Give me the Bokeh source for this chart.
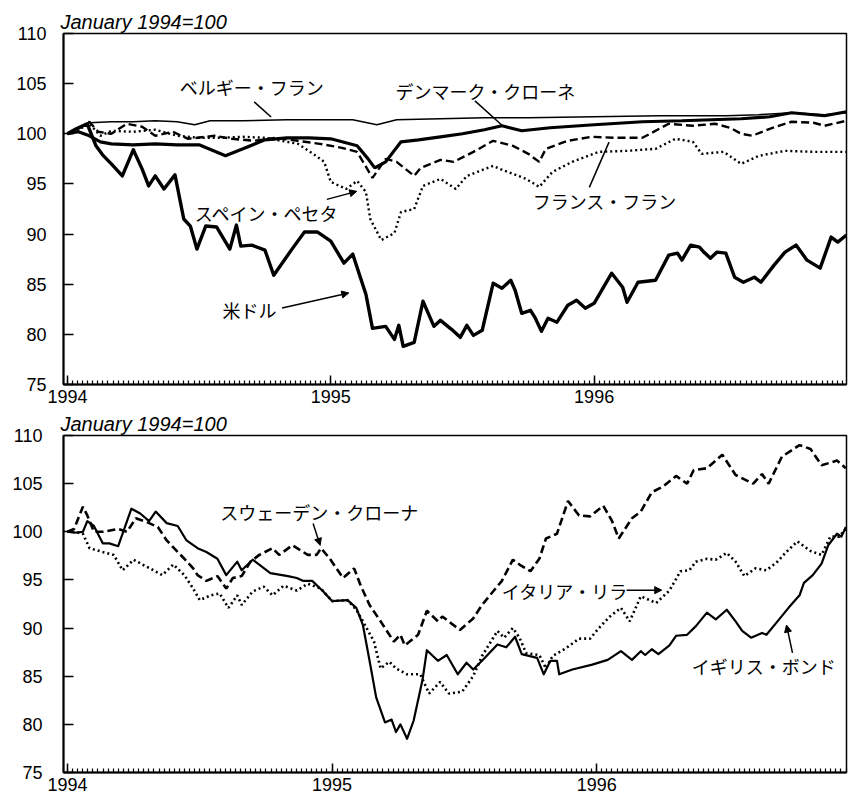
from bokeh.plotting import figure
from bokeh.layouts import column
from bokeh.models import Range1d, FixedTicker, Arrow, NormalHead, ColumnDataSource, Title
from bokeh.core.properties import value
from bokeh.embed import file_html
from bokeh.resources import INLINE

# x = months since January 1994 ; values: January 1994 = 100
# ---------- upper panel ----------
usd_m = [0, 0.4, 0.9, 1.3, 1.6, 2.0, 2.5, 3.0, 3.4, 3.7, 4.0, 4.4, 4.9, 5.3, 5.6, 5.9, 6.3, 6.8, 7.4, 7.7, 7.9,
         8.4, 9.0, 9.4, 10.2, 10.8, 11.4, 12.0, 12.6, 13.0, 13.6, 13.9, 14.5, 14.9, 15.1, 15.3, 15.8, 16.2, 16.7,
         17.0, 17.5, 17.9, 18.2, 18.5, 18.9, 19.4, 19.8, 20.2, 20.4, 20.7, 21.1, 21.3, 21.6, 21.9, 22.3, 22.8,
         23.2, 23.6, 24.0, 24.8, 25.3, 25.5, 26.0, 26.8, 27.4, 27.8, 28.0, 28.4, 28.8, 29.0, 29.3, 29.6, 30.0,
         30.4, 30.8, 31.3, 31.6, 32.2, 32.7, 33.2, 33.7, 34.3, 34.8, 35.1, 35.5]
usd_v = [100, 100.5, 101.0, 98.8, 97.9, 97.0, 95.8, 98.4, 96.5, 94.8, 95.8, 94.5, 95.9, 91.5, 90.8, 88.5, 90.8,
         90.7, 88.5, 90.9, 88.8, 88.9, 88.4, 85.9, 88.4, 90.2, 90.2, 89.3, 87.1, 88.0, 84.0, 80.6, 80.8, 79.5,
         80.9, 78.8, 79.2, 83.3, 80.8, 81.4, 80.5, 79.7, 80.9, 79.9, 80.4, 85.1, 84.6, 85.4, 84.4, 82.1, 82.4,
         81.7, 80.3, 81.6, 81.2, 82.9, 83.4, 82.6, 83.1, 86.1, 84.7, 83.2, 85.2, 85.4, 87.9, 88.1, 87.4, 88.9,
         88.7, 88.2, 87.6, 88.2, 88.1, 85.7, 85.2, 85.7, 85.2, 86.9, 88.2, 88.9, 87.4, 86.6, 89.7, 89.2, 89.9]

bef_m = [0, 0.5, 1.0, 2, 3, 4, 5, 5.8, 6.5, 8, 10, 12, 13, 14.1, 15, 17, 19, 21, 24, 27, 30, 31.5, 33, 34.5, 35.5]
bef_v = [100, 100.6, 101.1, 101.2, 101.2, 101.3, 101.2, 100.9, 101.3, 101.3, 101.4, 101.4, 101.4, 100.9, 101.4,
         101.5, 101.6, 101.6, 101.7, 101.8, 101.8, 101.9, 102.1, 101.9, 102.1]

dkk_m = [0, 0.5, 1.0, 1.5, 2, 3, 4, 5, 6, 7.2, 8, 9, 10, 11, 12, 13.2, 13.7, 14.0, 14.5, 15.2, 16, 17, 18, 19,
         19.8, 20.7, 22, 24, 26.2, 28, 30.7, 32, 33, 34.5, 35.5]
dkk_v = [100, 100.2, 99.8, 99.2, 99.0, 98.9, 99.0, 98.9, 98.9, 97.8, 98.5, 99.4, 99.6, 99.6, 99.5, 98.8, 97.5,
         96.6, 97.2, 99.2, 99.4, 99.7, 100.0, 100.4, 100.8, 100.3, 100.6, 100.9, 101.2, 101.3, 101.5, 101.7,
         102.1, 101.8, 102.2]

frf_m = [0, 0.5, 1.0, 1.4, 2.0, 2.7, 3.4, 4.0, 4.8, 5.5, 6.7, 7.5, 8.5, 9.5, 10.5, 11.5, 12.5, 13.2, 13.9, 14.5,
         15.0, 15.8, 16.1, 17.0, 17.6, 18.5, 19.4, 20.3, 21.0, 21.5, 21.8, 22.8, 23.9, 25.0, 26.2, 27.4, 28.5,
         29.5, 30.2, 30.7, 31.2, 32.0, 33.0, 34.0, 34.5, 35.5]
frf_v = [100, 100.5, 101.2, 100.2, 100.0, 101.0, 100.7, 99.8, 100.2, 99.5, 99.8, 99.5, 99.3, 99.6, 99.3, 99.0,
         98.6, 98.2, 95.6, 97.5, 97.2, 95.8, 96.6, 97.4, 97.2, 98.2, 99.3, 98.8, 98.0, 97.2, 98.5, 99.3, 99.7,
         99.6, 99.6, 101.0, 100.8, 101.0, 100.6, 100.0, 99.8, 100.5, 101.2, 101.1, 100.8, 101.3]

esp_m = [0, 0.5, 1.0, 1.5, 2.0, 3.0, 4.0, 5.0, 6.0, 7.0, 8.0, 9.0, 10.5, 11.2, 11.7, 12.0, 12.7, 13.2, 13.6, 13.8,
         14.3, 14.9, 15.2, 15.8, 16.2, 17.0, 17.7, 18.2, 19.4, 19.7, 20.9, 21.5, 22.1, 23.0, 24.2, 25.5, 26.8,
         27.7, 28.5, 28.9, 29.9, 30.7, 31.5, 32.7, 34.0, 35.5]
esp_v = [100, 100.4, 101.0, 99.8, 100.3, 100.2, 100.4, 99.8, 99.6, 99.6, 99.7, 99.6, 99.0, 98.0, 97.2, 95.2,
         94.5, 95.3, 94.2, 91.5, 89.4, 90.1, 92.2, 92.5, 94.8, 95.5, 94.5, 95.8, 96.8, 96.5, 95.5, 94.7, 96.2,
         97.2, 98.2, 98.3, 98.5, 99.5, 99.2, 98.0, 98.2, 97.0, 97.8, 98.3, 98.2, 98.2]

# ---------- lower panel ----------
gbp_m = [0, 0.3, 0.7, 0.9, 1.2, 1.6, 1.9, 2.3, 2.9, 3.3, 3.7, 4.0, 4.5, 5.0, 5.4, 5.9, 6.3, 6.8, 7.2, 7.7, 7.9,
         8.4, 9.2, 10.0, 10.4, 10.7, 11.1, 11.6, 12.0, 12.7, 13.1, 13.4, 13.7, 14.0, 14.4, 14.7, 14.9, 15.1,
         15.4, 15.7, 16.1, 16.3, 16.8, 17.2, 17.7, 18.1, 18.4, 18.8, 19.5, 19.9, 20.3, 20.6, 21.3, 21.6, 21.9,
         22.2, 22.3, 22.9, 23.8, 24.5, 25.1, 25.6, 26.0, 26.2, 26.5, 26.8, 27.3, 27.6, 28.1, 28.5, 29.0, 29.4,
         29.9, 30.3, 30.6, 31.0, 31.5, 31.7, 32.2, 32.7, 33.2, 33.4, 33.8, 34.2, 34.5, 34.9, 35.1, 35.3]
gbp_v = [100, 99.9, 100.0, 101.1, 100.6, 98.8, 98.8, 98.5, 102.4, 101.9, 101.1, 102.1, 100.9, 100.6, 99.1, 98.3,
         97.9, 97.2, 95.5, 96.9, 96.0, 97.1, 95.7, 95.4, 95.2, 94.9, 94.9, 93.8, 92.8, 92.9, 92.1, 90.3, 86.6,
         82.8, 80.2, 80.5, 79.2, 80.0, 78.5, 80.4, 84.6, 87.7, 86.6, 87.2, 85.2, 86.4, 85.7, 86.6, 88.3, 88.0,
         89.1, 87.3, 86.9, 85.2, 86.6, 86.6, 85.2, 85.7, 86.2, 86.7, 87.6, 86.7, 87.6, 87.2, 87.8, 87.3, 88.2,
         89.2, 89.3, 90.2, 91.6, 90.9, 91.9, 90.7, 89.7, 89.0, 89.5, 89.3, 90.7, 92.1, 93.4, 94.7, 95.5, 96.7,
         98.6, 99.8, 99.5, 100.5]

sek_m = [0, 0.3, 0.7, 0.9, 1.2, 1.6, 2.3, 2.7, 3.1, 3.6, 4.1, 4.5, 5.0, 5.3, 5.7, 5.9, 6.3, 6.8, 7.2, 7.5, 7.9,
         8.3, 8.7, 9.3, 9.6, 10.2, 10.9, 11.3, 11.5, 11.9, 12.5, 13.0, 13.3, 13.7, 14.2, 14.8, 15.1, 15.3, 15.9,
         16.3, 16.8, 17.0, 17.8, 18.4, 18.8, 19.3, 19.7, 20.2, 20.5, 21.0, 21.4, 21.7, 22.2, 22.7, 23.2, 23.7,
         24.3, 24.7, 25.0, 25.6, 26.0, 26.5, 27.0, 27.6, 28.1, 28.4, 29.0, 29.7, 30.3, 31.1, 31.5, 31.8, 32.4,
         33.2, 33.7, 34.2, 34.9, 35.3]
sek_v = [100, 100.3, 102.6, 101.7, 100.0, 100.0, 100.3, 100.0, 101.4, 101.0, 100.5, 99.1, 97.9, 97.2, 96.2, 95.5,
         94.9, 95.4, 94.1, 95.2, 95.4, 96.9, 97.6, 98.3, 97.6, 98.6, 97.6, 97.6, 98.3, 97.2, 95.2, 96.2, 94.4,
         92.4, 90.7, 88.6, 89.3, 88.2, 89.3, 91.8, 90.7, 91.2, 89.8, 91.0, 92.4, 93.8, 94.9, 97.1, 96.6, 95.9,
         97.2, 99.3, 99.8, 103.2, 101.7, 101.6, 102.7, 101.1, 99.3, 101.4, 102.1, 104.1, 104.7, 105.8, 105.0,
         106.4, 106.6, 108.0, 105.9, 105.0, 106.0, 105.0, 107.8, 109.0, 108.6, 106.9, 107.4, 106.6]

itl_m = [0, 0.3, 0.7, 1.0, 1.6, 2.1, 2.5, 3.0, 3.4, 3.9, 4.3, 4.8, 5.3, 5.7, 6.0, 6.5, 6.9, 7.3, 7.7, 7.9, 8.4,
         8.9, 9.3, 9.8, 10.4, 10.9, 11.5, 12.0, 12.7, 13.1, 13.4, 13.9, 14.2, 14.6, 14.9, 15.4, 16.0, 16.4, 16.9,
         17.3, 17.9, 18.4, 18.8, 19.5, 19.8, 20.2, 20.5, 20.8, 21.4, 21.7, 22.0, 22.6, 23.2, 23.7, 24.1, 24.6,
         25.1, 25.5, 26.0, 26.4, 26.7, 27.3, 27.8, 28.2, 28.5, 29.0, 29.4, 29.9, 30.3, 30.7, 31.2, 31.7, 32.2,
         32.6, 33.1, 33.7, 34.2, 34.6, 35.0, 35.3]
itl_v = [100, 100.0, 99.8, 98.3, 97.9, 97.6, 96.0, 97.1, 96.6, 96.0, 95.5, 96.6, 95.5, 94.1, 92.9, 93.4, 93.6,
         92.1, 93.4, 92.4, 93.8, 94.3, 93.4, 94.4, 93.9, 94.6, 94.1, 92.8, 92.9, 91.9, 90.7, 88.6, 85.8, 86.5,
         85.8, 85.2, 85.2, 83.2, 84.4, 83.2, 83.4, 85.0, 87.1, 89.7, 89.0, 90.0, 89.0, 87.4, 87.2, 85.8, 87.1,
         87.9, 88.9, 88.9, 90.0, 91.2, 92.1, 90.7, 93.3, 92.9, 92.6, 93.9, 95.9, 96.0, 96.9, 97.2, 97.1, 97.8,
         96.9, 95.4, 96.2, 96.0, 96.9, 97.9, 99.0, 98.0, 97.6, 99.5, 99.5, 100.3]

year_ticks = [0, 12, 24]
year_labels = ["1994", "1995", "1996"]
value_ticks = [75, 80, 85, 90, 95, 100, 105, 110]
week_ticks = [i * 12 / 52 for i in range(0, 156)]

# annotation labels (text, x, y) and pointer lines (x0, y0, x1, y1, head)
top_labels = [("ベルギー・フラン", 5.12, 104.7), ("デンマーク・クローネ", 14.95, 104.3),
              ("スペイン・ペセタ", 5.80, 92.15), ("米ドル", 7.07, 82.42), ("フランス・フラン", 21.2, 93.25)]
top_pointers = [(8.51, 103.18, 9.28, 101.68, False), (18.57, 103.28, 19.84, 100.78, False),
                (11.82, 93.46, 13.18, 94.26, True), (9.78, 82.62, 12.82, 84.13, True),
                (23.78, 94.66, 24.68, 99.17, False)]
bot_labels = [("スウェーデン・クローナ", 6.93, 102.1), ("イタリア・リラ", 19.70, 93.83),
              ("イギリス・ボンド", 28.31, 86.08)]
bot_pointers = [(11.14, 100.86, 11.46, 98.59, True), (25.36, 93.94, 26.95, 93.94, True),
                (32.88, 87.42, 32.61, 90.31, True)]

TICK_FONT = "Liberation Sans"
JP_FONT = "Noto Sans CJK JP"


def make_fig(height, xr, bl, br, bt, bb, ystand):
    p = figure(width=849, height=height, x_range=Range1d(*xr), y_range=Range1d(75, 110),
               output_backend="svg", toolbar_location=None,
               min_border_left=bl, min_border_right=br, min_border_top=bt, min_border_bottom=bb)
    p.title = Title(text="January 1994=100", align="left", text_font=TICK_FONT,
                    text_font_style="italic", text_font_size="20px", text_color="black",
                    standoff=1, offset=-3)
    p.xgrid.visible = False
    p.ygrid.visible = False
    p.outline_line_color = "black"
    p.outline_line_width = 1.5
    p.background_fill_color = "white"
    p.border_fill_color = "white"
    ax = p.xaxis[0]
    ax.ticker = FixedTicker(ticks=year_ticks, minor_ticks=week_ticks)
    ax.major_label_overrides = dict(zip(year_ticks, year_labels))
    ax.major_tick_in = 9
    ax.major_tick_out = 0
    ax.minor_tick_in = 4
    ax.minor_tick_out = 0
    ax.minor_tick_line_width = 1.2
    ax.axis_line_width = 2
    ax.major_tick_line_width = 1.5
    ax.major_label_text_font = TICK_FONT
    ax.major_label_text_font_size = "18px"
    ax.major_label_text_color = "black"
    ax.major_label_standoff = 5
    ay = p.yaxis[0]
    ay.ticker = FixedTicker(ticks=value_ticks)
    ay.major_tick_in = 10
    ay.major_tick_out = 0
    ay.minor_tick_in = 0
    ay.minor_tick_out = 0
    ay.axis_line_width = 2
    ay.major_tick_line_width = 1.5
    ay.major_label_text_font = TICK_FONT
    ay.major_label_text_font_size = "18px"
    ay.major_label_text_color = "black"
    ay.major_label_standoff = ystand
    return p


def annotate(p, labels, pointers):
    src = ColumnDataSource(dict(t=[l[0] for l in labels], x=[l[1] for l in labels], y=[l[2] for l in labels]))
    p.text(x="x", y="y", text="t", source=src, text_font=value(JP_FONT), text_font_size="18px",
           text_align="left", text_baseline="middle", text_color="black")
    for x0, y0, x1, y1, head in pointers:
        end = NormalHead(size=7, fill_color="black", line_color="black", line_width=1) if head else None
        p.add_layout(Arrow(x_start=x0, y_start=y0, x_end=x1, y_end=y1, end=end,
                           line_color="black", line_width=1.5))


top = make_fig(410, (-0.18, 35.5), 58, 3, 33, 26, 17)
top.line(bef_m, bef_v, line_color="black", line_width=1.6)
top.line(dkk_m, dkk_v, line_color="black", line_width=3.2)
top.line(frf_m, frf_v, line_color="black", line_width=2.4, line_dash="8 4")
top.line(esp_m, esp_v, line_color="black", line_width=2.4, line_dash="2 3")
top.line(usd_m, usd_v, line_color="black", line_width=3.4, line_join="round")
annotate(top, top_labels, top_pointers)

bot = make_fig(386, (-0.18, 35.33), 63, 2, 25, 24, 21)
bot.line(sek_m, sek_v, line_color="black", line_width=2.6, line_dash="8 4")
bot.line(itl_m, itl_v, line_color="black", line_width=2.6, line_dash="2 3")
bot.line(gbp_m, gbp_v, line_color="black", line_width=2.2, line_join="round")
annotate(bot, bot_labels, bot_pointers)

layout = column(top, bot, spacing=0)
open("out.html", "w").write(file_html(layout, INLINE))
